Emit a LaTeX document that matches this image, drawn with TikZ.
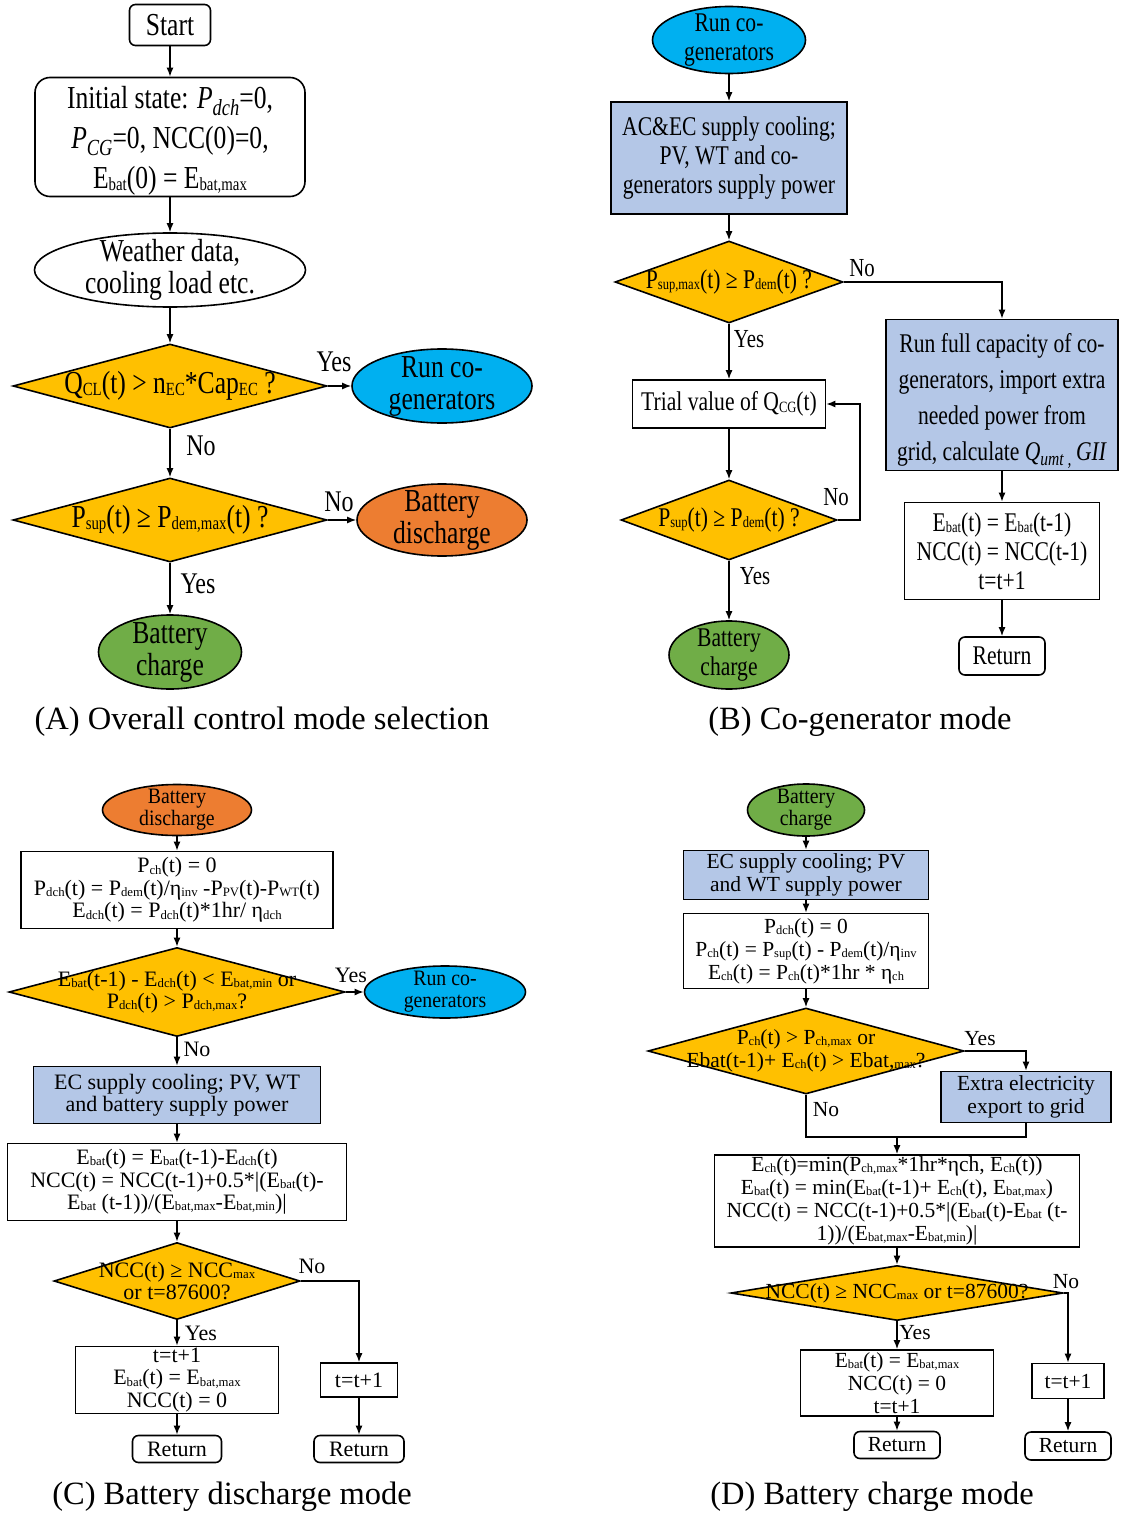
\documentclass[tikz,border=0pt]{standalone}
\usepackage{fontspec}
\usepackage{graphicx}
\setmainfont{Liberation Serif}
\newfontfamily\narrowserif[FakeStretch=0.8]{Liberation Serif}
\newfontfamily\semiserif[FakeStretch=0.9]{Liberation Serif}
\usetikzlibrary{shapes.geometric,arrows.meta}

% small subscripts set close to the baseline, and italic math-like ones
\newcommand\sbs[1]{\raisebox{-0.12ex}{\scalebox{0.58}{#1}}}
\newcommand\isub[1]{\raisebox{-0.45ex}{\scalebox{0.72}{\itshape #1}}}

% type sizes of the four panels
\newcommand\fA{\narrowserif\fontsize{32}{40}\selectfont}
\newcommand\fAel{\narrowserif\fontsize{32}{32}\selectfont}
\newcommand\fAlbl{\narrowserif\fontsize{30}{34}\selectfont}
\newcommand\fB{\narrowserif\fontsize{27}{29}\selectfont}
\newcommand\fBwide{\narrowserif\fontsize{27}{36}\selectfont}
\newcommand\fBlbl{\narrowserif\fontsize{26}{28}\selectfont}
\newcommand\fC{\fontsize{22}{22.5}\selectfont}
\newcommand\fCel{\semiserif\fontsize{22}{22}\selectfont}
\newcommand\fD{\fontsize{21.5}{23}\selectfont}
\newcommand\fcap{\fontsize{32.5}{36}\selectfont}

\definecolor{cgold}{HTML}{FFC000}
\definecolor{cblue}{HTML}{00B0F0}
\definecolor{corange}{HTML}{ED7D31}
\definecolor{cgreen}{HTML}{70AD47}
\definecolor{cpale}{HTML}{B4C7E7}

\tikzset{
  base/.style={draw, line width=1.6pt, inner sep=0pt, align=center},
  rbox/.style={base, rectangle},
  rrbox/.style={base, rectangle, rounded corners=6pt},
  oval/.style={base, ellipse},
  dia/.style={base, diamond, fill=cgold},
  txt/.style={inner sep=0pt, align=center},
  arr/.style={line width=1.5pt, -{Latex[length=9pt,width=7pt]}},
  lin/.style={line width=1.5pt},
}

\begin{document}
\begin{tikzpicture}[x=1pt,y=-1pt]
\useasboundingbox (0,0) rectangle (1123,1517);

% ---------------- (A) overall control mode selection ----------------
\node[rrbox, minimum width=81, minimum height=41, font=\fA] (aStart) at (170,25) {Start};
\node[rbox, rounded corners=15pt, minimum width=270, minimum height=119] (aInit) at (170,137) {};
\node[txt, font=\fA] (aInitT) at (170,141)
  {Initial state: \textit{P}\isub{dch}=0,\\ \textit{P}\isub{CG}=0, NCC(0)=0,\\ E\sbs{bat}(0) = E\sbs{bat,max}};
\node[oval, minimum width=271, minimum height=74] (aWx) at (170,270) {};
\node[txt, font=\fAel] (aWxT) at (aWx) {Weather data,\\cooling load etc.};
\node[dia, minimum width=314, minimum height=84] (aQ) at (170,386) {};
\node[txt, font=\fA] (aQT) at (aQ) {Q\sbs{CL}(t) > n\sbs{EC}*Cap\sbs{EC} ?};
\node[oval, fill=cblue, minimum width=180, minimum height=74] (aRun) at (442,386) {};
\node[txt, font=\fAel] (aRunT) at (aRun) {Run co-\\generators};
\node[dia, minimum width=314, minimum height=84] (aP) at (170,520) {};
\node[txt, font=\fA] (aPT) at (aP) {P\sbs{sup}(t) ≥ P\sbs{dem,max}(t) ?};
\node[oval, fill=corange, minimum width=170, minimum height=72] (aDis) at (442,520) {};
\node[txt, font=\fAel] (aDisT) at (aDis) {Battery\\discharge};
\node[oval, fill=cgreen, minimum width=143, minimum height=74] (aCh) at (170,652) {};
\node[txt, font=\fAel] (aChT) at (aCh) {Battery\\charge};

\draw[arr] (aStart) -- (aInit);
\draw[arr] (aInit) -- (aWx);
\draw[arr] (aWx) -- (aQ);
\draw[arr] (aQ.east) -- (aRun.west);
\draw[arr] (aQ) -- (aP);
\draw[arr] (aP.east) -- (aDis.west);
\draw[arr] (aP) -- (aCh);

\node[txt, font=\fAlbl] (aYes1) at (334,362) {Yes};
\node[txt, font=\fAlbl] (aNo1) at (201,446) {No};
\node[txt, font=\fAlbl] (aNo2) at (339,502) {No};
\node[txt, font=\fAlbl] (aYes2) at (198,584) {Yes};
\node[txt, font=\fcap] (aCap) at (262,722) {(A) Overall control mode selection};

% ---------------- (B) co-generator mode ----------------
\node[oval, fill=cblue, minimum width=153, minimum height=67] (bRun) at (729,40) {};
\node[txt, font=\fB] (bRunT) at (bRun) {Run co-\\generators};
\node[rbox, fill=cpale, minimum width=236, minimum height=112, font=\fB] (bAC) at (729,158)
  {AC\&EC supply cooling;\\PV, WT and co-\\generators supply power};
\node[dia, minimum width=228, minimum height=82] (bQ) at (729,282) {};
\node[txt, font=\fB] (bQT) at (bQ) {P\sbs{sup,max}(t) ≥ P\sbs{dem}(t) ?};
\node[rbox, fill=cpale, minimum width=232, minimum height=151] (bFull) at (1002,395) {};
\node[txt, font=\fBwide] (bFullT) at (1002,401)
  {Run full capacity of co-\\generators, import extra\\needed power from\\grid, calculate \textit{Q}\isub{umt ,}\,\textit{GII}};
\node[rbox, minimum width=195, minimum height=97, font=\fB] (bE) at (1002,551)
  {E\sbs{bat}(t) = E\sbs{bat}(t-1)\\NCC(t) = NCC(t-1)\\t=t+1};
\node[rrbox, minimum width=86, minimum height=38, font=\fB] (bRet) at (1002,656) {Return};
\node[rbox, minimum width=193, minimum height=48, font=\fB] (bTrial) at (729,404) {Trial value of Q\sbs{CG}(t)};
\node[dia, minimum width=216, minimum height=80] (bP) at (729,520) {};
\node[txt, font=\fB] (bPT) at (bP) {P\sbs{sup}(t) ≥ P\sbs{dem}(t) ?};
\node[oval, fill=cgreen, minimum width=120, minimum height=68] (bCh) at (729,655) {};
\node[txt, font=\fB] (bChT) at (bCh) {Battery\\charge};

\draw[arr] (bRun) -- (bAC);
\draw[arr] (bAC) -- (bQ);
\draw[arr] (bQ.east) -| (bFull.north);
\draw[arr] (bFull) -- (bE);
\draw[arr] (bE) -- (bRet);
\draw[arr] (bQ) -- (bTrial);
\draw[arr] (bTrial) -- (bP);
\draw[arr] (bP.east) -- ++(22,0) |- (bTrial.east);
\draw[arr] (bP) -- (bCh);

\node[txt, font=\fBlbl] (bNo1) at (862,268) {No};
\node[txt, font=\fBlbl] (bYes1) at (749,339) {Yes};
\node[txt, font=\fBlbl] (bNo2) at (836,497) {No};
\node[txt, font=\fBlbl] (bYes2) at (755,576) {Yes};
\node[txt, font=\fcap] (bCap) at (860,722) {(B) Co-generator mode};

% ---------------- (C) battery discharge mode ----------------
\node[oval, fill=corange, minimum width=149, minimum height=51] (cDis) at (177,810) {};
\node[txt, font=\fCel] (cDisT) at (cDis) {Battery\\discharge};
\node[rbox, minimum width=312, minimum height=77, font=\fC] (cB1) at (177,890)
  {P\sbs{ch}(t) = 0\\P\sbs{dch}(t) = P\sbs{dem}(t)/η\sbs{inv} -P\sbs{PV}(t)-P\sbs{WT}(t)\\E\sbs{dch}(t) = P\sbs{dch}(t)*1hr/ η\sbs{dch}};
\node[dia, minimum width=336, minimum height=89] (cQ) at (177,992) {};
\node[txt, font=\fC] (cQT) at (cQ) {E\sbs{bat}(t-1) - E\sbs{dch}(t) < E\sbs{bat,min} or\\P\sbs{dch}(t) > P\sbs{dch,max}?};
\node[oval, fill=cblue, minimum width=161, minimum height=52] (cRun) at (445,992) {};
\node[txt, font=\fCel] (cRunT) at (cRun) {Run co-\\generators};
\node[rbox, fill=cpale, minimum width=287, minimum height=57, font=\fC] (cEC) at (177,1095)
  {EC supply cooling; PV, WT\\and battery supply power};
\node[rbox, minimum width=339, minimum height=77, font=\fC] (cB2) at (177,1182)
  {E\sbs{bat}(t) = E\sbs{bat}(t-1)-E\sbs{dch}(t)\\NCC(t) = NCC(t-1)+0.5*|(E\sbs{bat}(t)-\\E\sbs{bat} (t-1))/(E\sbs{bat,max}-E\sbs{bat,min})|};
\node[dia, minimum width=246, minimum height=77] (cN) at (177,1281) {};
\node[txt, font=\fC] (cNT) at (cN) {NCC(t) ≥ NCC\sbs{max}\\or t=87600?};
\node[rbox, minimum width=203, minimum height=67, font=\fC] (cB3) at (177,1380)
  {t=t+1\\E\sbs{bat}(t) = E\sbs{bat,max}\\NCC(t) = 0};
\node[rrbox, minimum width=89, minimum height=27, font=\fC] (cRet1) at (177,1449) {Return};
\node[rbox, minimum width=77, minimum height=34, font=\fC] (cT) at (359,1380) {t=t+1};
\node[rrbox, minimum width=90, minimum height=27, font=\fC] (cRet2) at (359,1449) {Return};

\draw[arr] (cDis) -- (cB1);
\draw[arr] (cB1) -- (cQ);
\draw[arr] (cQ.east) -- (cRun.west);
\draw[arr] (cQ) -- (cEC);
\draw[arr] (cEC) -- (cB2);
\draw[arr] (cB2) -- (cN);
\draw[arr] (cN.east) -| (cT.north);
\draw[arr] (cN) -- (cB3);
\draw[arr] (cB3) -- (cRet1);
\draw[arr] (cT) -- (cRet2);

\node[txt, font=\fC] (cYes1) at (351,975) {Yes};
\node[txt, font=\fC] (cNo1) at (197,1049) {No};
\node[txt, font=\fC] (cNo2) at (312,1266) {No};
\node[txt, font=\fC] (cYes2) at (201,1333) {Yes};
\node[txt, font=\fcap] (cCap) at (232,1497) {(C) Battery discharge mode};

% ---------------- (D) battery charge mode ----------------
\node[oval, fill=cgreen, minimum width=117, minimum height=52] (dCh) at (806,810) {};
\node[txt, font=\fCel] (dChT) at (dCh) {Battery\\charge};
\node[rbox, fill=cpale, minimum width=245, minimum height=49, font=\fD] (dEC) at (806,875)
  {EC supply cooling; PV\\and WT supply power};
\node[rbox, minimum width=245, minimum height=75, font=\fD] (dB1) at (806,951)
  {P\sbs{dch}(t) = 0\\P\sbs{ch}(t) = P\sbs{sup}(t) - P\sbs{dem}(t)/η\sbs{inv}\\E\sbs{ch}(t) = P\sbs{ch}(t)*1hr * η\sbs{ch}};
\node[dia, minimum width=316, minimum height=86] (dQ) at (806,1051) {};
\node[txt, font=\fD] (dQT) at (dQ) {P\sbs{ch}(t) > P\sbs{ch,max} or\\Ebat(t-1)+ E\sbs{ch}(t) > Ebat,\sbs{max}?};
\node[rbox, fill=cpale, minimum width=170, minimum height=51, font=\fD] (dEx) at (1026,1097)
  {Extra electricity\\export to grid};
\coordinate (dJoin) at (897,1137);
\node[rbox, minimum width=365, minimum height=92, font=\fD] (dB2) at (897,1201)
  {E\sbs{ch}(t)=min(P\sbs{ch,max}*1hr*ηch, E\sbs{ch}(t))\\E\sbs{bat}(t) = min(E\sbs{bat}(t-1)+ E\sbs{ch}(t), E\sbs{bat,max})\\NCC(t) = NCC(t-1)+0.5*|(E\sbs{bat}(t)-E\sbs{bat} (t-\\1))/(E\sbs{bat,max}-E\sbs{bat,min})|};
\node[dia, minimum width=332, minimum height=55] (dN) at (897,1293) {};
\node[txt, font=\fD] (dNT) at (dN) {NCC(t) ≥ NCC\sbs{max} or t=87600?};
\node[rbox, minimum width=193, minimum height=66, font=\fD] (dB3) at (897,1383)
  {E\sbs{bat}(t) = E\sbs{bat,max}\\NCC(t) = 0\\t=t+1};
\node[rrbox, minimum width=86, minimum height=27, font=\fD] (dRet1) at (897,1445) {Return};
\node[rbox, minimum width=72, minimum height=35, font=\fD] (dT) at (1068,1381) {t=t+1};
\node[rrbox, minimum width=86, minimum height=28, font=\fD] (dRet2) at (1068,1446) {Return};

\draw[arr] (dCh) -- (dEC);
\draw[arr] (dEC) -- (dB1);
\draw[arr] (dB1) -- (dQ);
\draw[arr] (dQ.east) -| (dEx.north);
\draw[lin] (dQ.south) |- (dEx.south |- dJoin) -- (dEx.south);
\draw[arr] (dJoin) -- (dB2);
\draw[arr] (dB2) -- (dN);
\draw[arr] (dN.east) -| (dT.north);
\draw[arr] (dN) -- (dB3);
\draw[arr] (dB3) -- (dRet1);
\draw[arr] (dT) -- (dRet2);

\node[txt, font=\fD] (dYes1) at (980,1039) {Yes};
\node[txt, font=\fD] (dNo1) at (826,1110) {No};
\node[txt, font=\fD] (dNo2) at (1066,1282) {No};
\node[txt, font=\fD] (dYes2) at (915,1333) {Yes};
\node[txt, font=\fcap] (dCap) at (872,1497) {(D) Battery charge mode};
\end{tikzpicture}
\end{document}
